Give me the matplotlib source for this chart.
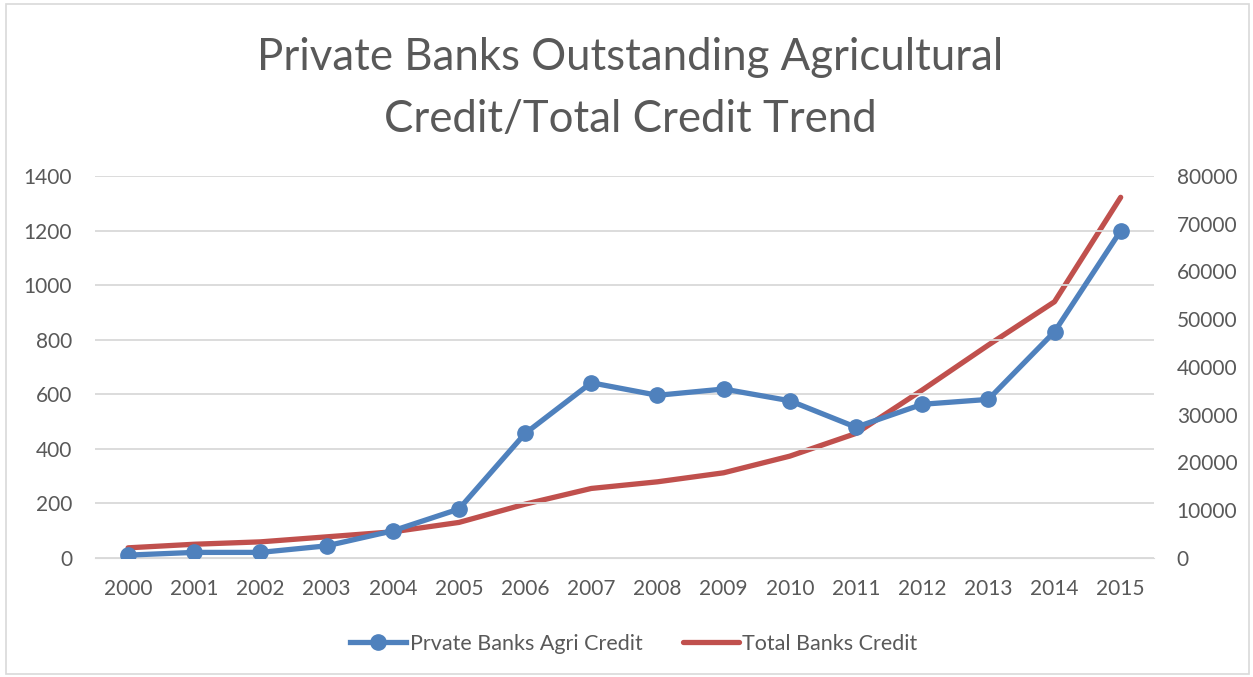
import matplotlib.pyplot as plt
from matplotlib.patches import Rectangle

years = [str(y) for y in range(2000, 2016)]
agri_credit = [10, 20, 20, 44, 99, 179, 456, 642, 596, 619, 576, 479, 563, 581, 829, 1199]
total_credit = [2100, 2850, 3350, 4400, 5450, 7420, 11250, 14540, 15930, 17820,
                21310, 26070, 35150, 44580, 53660, 75540]

plt.rcParams['font.family'] = ['Lato', 'DejaVu Sans']
txt = '#595959'
blue = '#4f81bd'
red = '#c0504d'

fig = plt.figure(figsize=(12.53, 6.77), dpi=100)
ax = fig.add_axes([0.0758, 0.176, 0.845, 0.564])
ax2 = ax.twinx()

x = range(len(years))
l1, = ax.plot(x, agri_credit, color=blue, lw=3.8, marker='o', ms=11,
              label='Prvate Banks Agri Credit', zorder=3)
l2, = ax2.plot(x, total_credit, color=red, lw=3.8, label='Total Banks Credit',
               solid_capstyle='round')

ax.set_xlim(-0.5, len(years) - 0.5)
ax.set_ylim(0, 1400)
ax.set_yticks(range(0, 1401, 200))
ax2.set_ylim(0, 80000)
ax2.set_yticks(range(0, 80001, 10000))
ax.set_xticks(list(x))
ax.set_xticklabels(years)

ax.grid(axis='y', color='#d9d9d9', lw=1.3)
ax.set_axisbelow(True)
for a in (ax, ax2):
    for s in a.spines.values():
        s.set_visible(False)
    a.tick_params(length=0, labelsize=15, colors=txt, pad=16.5)
ax.tick_params(axis='x', pad=15)
ax.spines['bottom'].set_visible(True)
ax.spines['bottom'].set_color('#d9d9d9')
ax.set_zorder(ax2.get_zorder() + 1)
ax.patch.set_visible(False)

fig.text(0.503, 0.869, 'Private Banks Outstanding Agricultural\nCredit/Total Credit Trend',
         ha='center', va='center', fontsize=31.5, color=txt, linespacing=1.64)

fig.legend(handles=[l1, l2], loc='center', bbox_to_anchor=(0.506, 0.049), ncol=2,
           frameon=False, fontsize=15.5, labelcolor=txt, handlelength=2.6,
           handletextpad=0.15, columnspacing=1.9)

fig.patches.append(Rectangle((0.005, 0.004), 0.992, 0.99, transform=fig.transFigure,
                             fill=False, edgecolor='#d9d9d9', lw=1.2))

fig.savefig('out.png', dpi=100)
